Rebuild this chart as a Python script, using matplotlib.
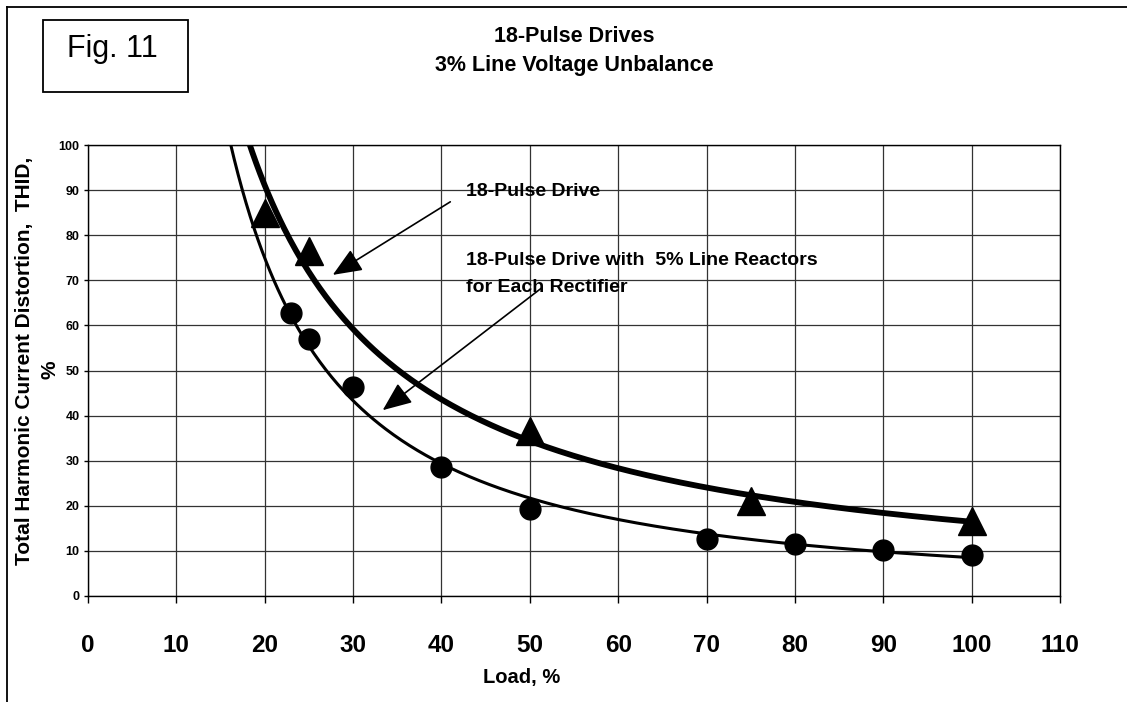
import matplotlib
matplotlib.use("Agg")
import matplotlib.pyplot as plt
import numpy as np

plt.rcParams['font.family'] = ['Liberation Sans', 'DejaVu Sans']

# data
load_plain = [20, 25, 50, 75, 100]          # 18-Pulse Drive (triangles)
thid_plain = [85.0, 76.5, 36.5, 21.0, 16.6]
load_reactor = [23, 25, 30, 40, 50, 70, 80, 90, 100]   # with 5% line reactors (circles)
thid_reactor = [62.7, 57.0, 46.3, 28.5, 19.2, 12.7, 11.6, 10.2, 9.2]

x_ticks = list(range(0, 111, 10))
y_ticks = list(range(0, 101, 10))

W, H = 1127, 702


def fx(px):
    return px / W


def fy(py):
    return 1 - py / H


def power_trend(xs, ys):
    # Excel style power trendline: linear fit in log-log space
    b, lna = np.polyfit(np.log(xs), np.log(ys), 1)
    xx = np.linspace(10, 100, 400)
    return xx, np.exp(lna) * xx ** b


fig = plt.figure(figsize=(W / 100, H / 100), dpi=100)
ax = fig.add_axes([fx(88), fy(596), (1060 - 88) / W, (596 - 145) / H])

xx, yy = power_trend(load_plain, thid_plain)
ax.plot(xx, yy, color='black', lw=4.2, solid_capstyle='butt', zorder=3)
xx, yy = power_trend(load_reactor, thid_reactor)
ax.plot(xx, yy, color='black', lw=2.2, solid_capstyle='butt', zorder=3)

ax.plot(load_plain, thid_plain, linestyle='none', marker='^', markersize=20,
        color='black', zorder=4, clip_on=False)
ax.plot(load_reactor, thid_reactor, linestyle='none', marker='o', markersize=15,
        color='black', zorder=4, clip_on=False)

ax.set_xlim(0, 110)
ax.set_ylim(0, 100)
ax.set_xticks(x_ticks)
ax.set_yticks(y_ticks)
ax.grid(True, color='#333333', lw=0.9)
ax.set_axisbelow(True)
for s in ax.spines.values():
    s.set_color('black')
    s.set_linewidth(1.0)
ax.tick_params(axis='x', direction='out', length=5, width=1, pad=22, labelsize=17.5)
ax.tick_params(axis='y', direction='out', length=3, width=1, pad=3, labelsize=9)
for lab in ax.get_xticklabels() + ax.get_yticklabels():
    lab.set_fontweight('bold')

# arrows and their labels
ax.annotate('', xy=(27.7, 71.2), xytext=(41.0, 87.4),
            arrowprops=dict(arrowstyle='-|>,head_length=0.6,head_width=0.25',
                            color='black', lw=1.2, mutation_scale=30,
                            shrinkA=0, shrinkB=0))
ax.annotate('', xy=(33.35, 41.2), xytext=(51.4, 68.4),
            arrowprops=dict(arrowstyle='-|>,head_length=0.6,head_width=0.25',
                            color='black', lw=1.2, mutation_scale=30,
                            shrinkA=0, shrinkB=0))
ax.text(42.8, 89.6, '18-Pulse Drive', fontsize=14, fontweight='bold',
        ha='left', va='center')
ax.text(42.8, 74.5, '18-Pulse Drive with  5% Line Reactors', fontsize=14,
        fontweight='bold', ha='left', va='center')
ax.text(42.8, 68.5, 'for Each Rectifier', fontsize=14, fontweight='bold',
        ha='left', va='center')

# titles and axis labels
fig.text(fx(574), fy(37), '18-Pulse Drives', fontsize=15.5, fontweight='bold',
         ha='center', va='center')
fig.text(fx(574), fy(65), '3% Line Voltage Unbalance', fontsize=15.5,
         fontweight='bold', ha='center', va='center')
fig.text(fx(522), fy(678), 'Load, %', fontsize=14.5, fontweight='bold',
         ha='center', va='center')
fig.text(fx(25), fy(361), 'Total Harmonic Current Distortion,  THID,',
         fontsize=15, fontweight='bold', rotation=90, ha='center', va='center')
fig.text(fx(50), fy(370), '%', fontsize=15, fontweight='bold', rotation=90,
         ha='center', va='center')

# "Fig. 11" box
fig.patches.append(plt.Rectangle((fx(43), fy(92)), (188 - 43) / W, (92 - 20) / H,
                                 transform=fig.transFigure, fill=False,
                                 edgecolor='black', lw=1.3))
fig.text(fx(112), fy(49), 'Fig. 11', fontsize=22, ha='center', va='center')

# outer frame (runs off the right and bottom edge)
fig.add_artist(plt.Line2D([fx(7), 1], [fy(7), fy(7)], color='black', lw=1.3,
                          transform=fig.transFigure))
fig.add_artist(plt.Line2D([fx(7), fx(7)], [fy(7), 0], color='black', lw=1.3,
                          transform=fig.transFigure))

fig.savefig('out.png', dpi=100)
